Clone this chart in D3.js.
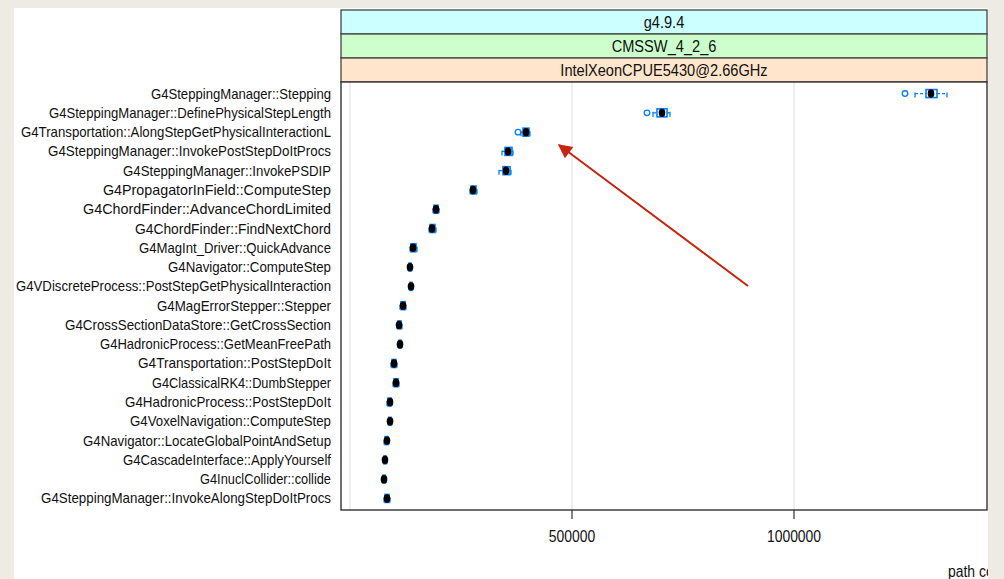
<!DOCTYPE html>
<html>
<head>
<meta charset="utf-8">
<script src="https://cdn.jsdelivr.net/npm/d3@7"></script>
<style>
  html, body { margin: 0; padding: 0; background: #eeebe5; }
  svg { display: block; }
  text { font-family: "Liberation Sans", Arial, sans-serif; fill: #111; }
</style>
</head>
<body>
<svg id="chart" width="1004" height="579"></svg>
<script>
// Function names, top to bottom
const categories = [
  "G4SteppingManager::Stepping",
  "G4SteppingManager::DefinePhysicalStepLength",
  "G4Transportation::AlongStepGetPhysicalInteractionL",
  "G4SteppingManager::InvokePostStepDoItProcs",
  "G4SteppingManager::InvokePSDIP",
  "G4PropagatorInField::ComputeStep",
  "G4ChordFinder::AdvanceChordLimited",
  "G4ChordFinder::FindNextChord",
  "G4MagInt_Driver::QuickAdvance",
  "G4Navigator::ComputeStep",
  "G4VDiscreteProcess::PostStepGetPhysicalInteraction",
  "G4MagErrorStepper::Stepper",
  "G4CrossSectionDataStore::GetCrossSection",
  "G4HadronicProcess::GetMeanFreePath",
  "G4Transportation::PostStepDoIt",
  "G4ClassicalRK4::DumbStepper",
  "G4HadronicProcess::PostStepDoIt",
  "G4VoxelNavigation::ComputeStep",
  "G4Navigator::LocateGlobalPointAndSetup",
  "G4CascadeInterface::ApplyYourself",
  "G4InuclCollider::collide",
  "G4SteppingManager::InvokeAlongStepDoItProcs"
];

// Box-and-whisker statistics of path counts, one entry per function
const medians   = [1308600, 702700, 396400, 355900, 351400, 277000, 193700, 184700, 141900, 135100, 137400, 119400, 110400, 112600, 99100, 103600, 90100, 90100, 83300, 78800, 76600, 83300];
const lowerQ    = [1297300, 691400, 389600, 349100, 344600, 272500, 189200, 180200, 137400, 132900, 135100, 114900, 108100, 110400, 94600, 99100, 85600, 87800, 78800, 76600, 74300, 78800];
const upperQ    = [1322100, 714000, 403200, 364900, 360400, 283800, 198200, 191400, 148600, 137400, 139600, 123900, 114900, 114900, 103600, 108100, 92300, 92300, 85600, 81100, 78800, 87800];
const whiskerLo = [1272500, 682400, 385100, 342300, 335600, 270300, 186900, 177900, 135100, 130600, 132900, 112600, 105900, 108100, 92300, 96800, 83300, 85600, 76600, 74300, 72100, 76600];
const whiskerHi = [1344600, 720700, 405400, 367100, 362600, 286000, 200500, 193700, 150900, 139600, 141900, 126100, 117100, 117100, 105900, 110400, 94600, 94600, 87800, 83300, 81100, 90100];
const outliers  = [[1250000], [668900], [378400], [], [], [], [], [], [], [], [], [], [], [], [], [], [], [], [], [], [], []];

// Conditioning strips, outermost first
const stripLabels = ["g4.9.4", "CMSSW_4_2_6", "IntelXeonCPUE5430@2.66GHz"];
const stripColors = ["#ccffff", "#ccffcc", "#ffe5cc"];

// Axis
const tickValues = [500000, 1000000];
const gridValues = [0, 500000, 1000000];
const xLabel = "path count";

// Rendered width of each category label (the label font sets them loosely)
const labelWidths = [180, 282, 310, 283, 208, 228, 248, 196, 192, 163, 315, 174, 266, 231, 193, 179, 206, 201, 248, 208, 131, 290];

const svg = d3.select("#chart");
const W = 1004, H = 579;

// slide paper
svg.append("rect").attr("width", W).attr("height", H).attr("fill", "#eeebe5");
svg.append("rect").attr("x", 14).attr("y", 8).attr("width", 974).attr("height", H - 8).attr("fill", "#ffffff");

const panel = { left: 341, right: 987, top: 82, bottom: 510 };

const x = d3.scaleLinear().domain([-20300, 1434700]).range([panel.left, panel.right]);
const y = d3.scalePoint().domain(categories).range([panel.top, panel.bottom]).padding(0.6);

// helper for horizontally condensed text
function ctext(g, str, tx, ty, size, anchor, sx) {
  return g.append("text")
    .attr("transform", `translate(${tx},${ty}) scale(${sx},1)`)
    .attr("text-anchor", anchor)
    .attr("font-size", size)
    .text(str);
}

// strips
const stripH = 24, stripTop = 10;
stripLabels.forEach((lab, i) => {
  const sy = stripTop + i * stripH;
  svg.append("rect")
    .attr("x", panel.left).attr("y", sy)
    .attr("width", panel.right - panel.left).attr("height", stripH)
    .attr("fill", stripColors[i]).attr("stroke", "#444").attr("stroke-width", 1.3);
  ctext(svg, lab, (panel.left + panel.right) / 2, sy + 18, 17, "middle", 0.86);
});

// panel background + grid
svg.append("rect")
  .attr("x", panel.left).attr("y", panel.top)
  .attr("width", panel.right - panel.left).attr("height", panel.bottom - panel.top)
  .attr("fill", "#ffffff");

svg.append("g").selectAll("line").data(gridValues).join("line")
  .attr("x1", d => x(d)).attr("x2", d => x(d))
  .attr("y1", panel.top).attr("y2", panel.bottom)
  .attr("stroke", "#e4e4e4").attr("stroke-width", 1.2);

// boxes
const blue = "#0080ff";
const rows = categories.map((c, i) => ({
  c, med: medians[i], q1: lowerQ[i], q3: upperQ[i],
  lo: whiskerLo[i], hi: whiskerHi[i], out: outliers[i]
}));

const bw = svg.append("g");
const boxHalf = 4;
rows.forEach(r => {
  const cy = y(r.c);
  const g = bw.append("g");
  // whiskers (dashed umbrella)
  g.append("line").attr("x1", x(r.lo)).attr("x2", x(r.q1)).attr("y1", cy).attr("y2", cy)
    .attr("stroke", blue).attr("stroke-width", 1.3).attr("stroke-dasharray", "3,2");
  g.append("line").attr("x1", x(r.q3)).attr("x2", x(r.hi)).attr("y1", cy).attr("y2", cy)
    .attr("stroke", blue).attr("stroke-width", 1.3).attr("stroke-dasharray", "3,2");
  [r.lo, r.hi].forEach(v => {
    g.append("line").attr("x1", x(v)).attr("x2", x(v)).attr("y1", cy - 1).attr("y2", cy + 4)
      .attr("stroke", blue).attr("stroke-width", 1.3);
  });
  // box
  g.append("rect")
    .attr("x", x(r.q1)).attr("y", cy - boxHalf)
    .attr("width", Math.max(1, x(r.q3) - x(r.q1))).attr("height", boxHalf * 2)
    .attr("fill", "none").attr("stroke", blue).attr("stroke-width", 1.6);
  // outliers
  r.out.forEach(v => {
    g.append("circle").attr("cx", x(v)).attr("cy", cy).attr("r", 2.8)
      .attr("fill", "none").attr("stroke", blue).attr("stroke-width", 1.3);
  });
  // median dot
  g.append("ellipse").attr("cx", x(r.med)).attr("cy", cy).attr("rx", 3.3).attr("ry", 4.2)
    .attr("fill", "#000");
});

// panel frame
svg.append("rect")
  .attr("x", panel.left).attr("y", panel.top)
  .attr("width", panel.right - panel.left).attr("height", panel.bottom - panel.top)
  .attr("fill", "none").attr("stroke", "#333").attr("stroke-width", 1.4);

// category labels, right-aligned against the panel
const labG = svg.append("g");
categories.forEach((c, i) => {
  const w = labelWidths[i];
  labG.append("text")
    .attr("x", 331 - w).attr("y", y(c) + 5)
    .attr("font-size", 14.5)
    .attr("textLength", w)
    .attr("lengthAdjust", "spacingAndGlyphs")
    .text(c);
});

// bottom axis
const axG = svg.append("g");
axG.selectAll("line").data(tickValues).join("line")
  .attr("x1", d => x(d)).attr("x2", d => x(d))
  .attr("y1", panel.bottom).attr("y2", panel.bottom + 9)
  .attr("stroke", "#333").attr("stroke-width", 1.2);
tickValues.forEach(v => ctext(axG, d3.format("d")(v), x(v), 542, 16, "middle", 0.87));

// x-axis title (runs off the slide edge)
svg.append("clipPath").attr("id", "slideClip")
  .append("rect").attr("x", 0).attr("y", 0).attr("width", 988).attr("height", H);
ctext(svg.append("g").attr("clip-path", "url(#slideClip)"), xLabel, 948, 577, 16, "start", 0.87);

// right margin of the slide
svg.append("rect").attr("x", 988).attr("y", 0).attr("width", W - 988).attr("height", H).attr("fill", "#eeebe5");

// annotation arrow
const defs = svg.append("defs");
defs.append("marker").attr("id", "arrowHead")
  .attr("viewBox", "0 0 10 10").attr("refX", 9).attr("refY", 5)
  .attr("markerWidth", 9).attr("markerHeight", 7).attr("orient", "auto")
  .attr("markerUnits", "strokeWidth")
  .append("path").attr("d", "M0,0 L10,5 L0,10 z").attr("fill", "#c8230e");
svg.append("line")
  .attr("x1", 748).attr("y1", 286).attr("x2", 559).attr("y2", 145)
  .attr("stroke", "#c8230e").attr("stroke-width", 2)
  .attr("marker-end", "url(#arrowHead)");
</script>
</body>
</html>
